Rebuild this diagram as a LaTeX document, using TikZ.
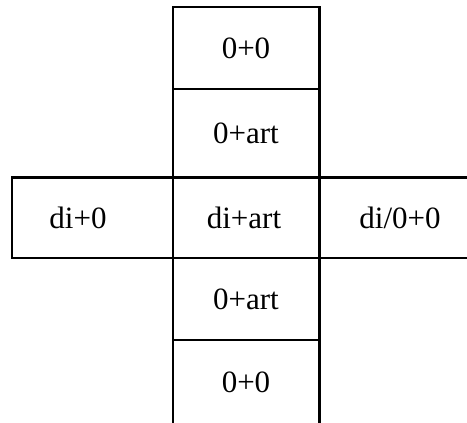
\documentclass[tikz,border=0pt]{standalone}
\usepackage{fontspec}
\setmainfont{Liberation Serif}
\begin{document}
\begin{tikzpicture}[x=1pt,y=-1pt,
  lbl/.style={inner sep=0pt,font=\fontsize{31}{36}\selectfont},
  grid/.style={line width=2.1pt}]
\useasboundingbox (0,0) rectangle (467,423);
% grid coordinates
\coordinate (tl) at (173,7);
\coordinate (tr) at (319.5,7);
\coordinate (bl) at (173,423);
\coordinate (br) at (319.5,423);
\coordinate (h1l) at (173,89);   \coordinate (h1r) at (319.5,89);
\coordinate (h2l) at (12,177.5); \coordinate (h2r) at (467,177.5);
\coordinate (h3l) at (12,258);   \coordinate (h3r) at (467,258);
\coordinate (h4l) at (173,340);  \coordinate (h4r) at (319.5,340);
% lines
\draw[grid,line cap=rect] (tl) -- (tr);
\draw[grid] (tl) -- (bl);
\draw[grid] (tr) -- (br);
\draw[grid] (h1l) -- (h1r);
\draw[grid] (h2l) -- (h2r);
\draw[grid] (h3l) -- (h3r);
\draw[grid] (h4l) -- (h4r);
\draw[grid,line cap=rect] (h2l) -- (h3l);
% labels
\node[lbl] (t1) at (246,48) {0+0};
\node[lbl] (t2) at (246,133) {0+art};
\node[lbl] (c) at (244,218) {di+art};
\node[lbl] (l) at (78,218) {di+0};
\node[lbl] (r) at (400,218) {di/0+0};
\node[lbl] (b1) at (246,299) {0+art};
\node[lbl] (b2) at (246,382) {0+0};
\end{tikzpicture}
\end{document}
